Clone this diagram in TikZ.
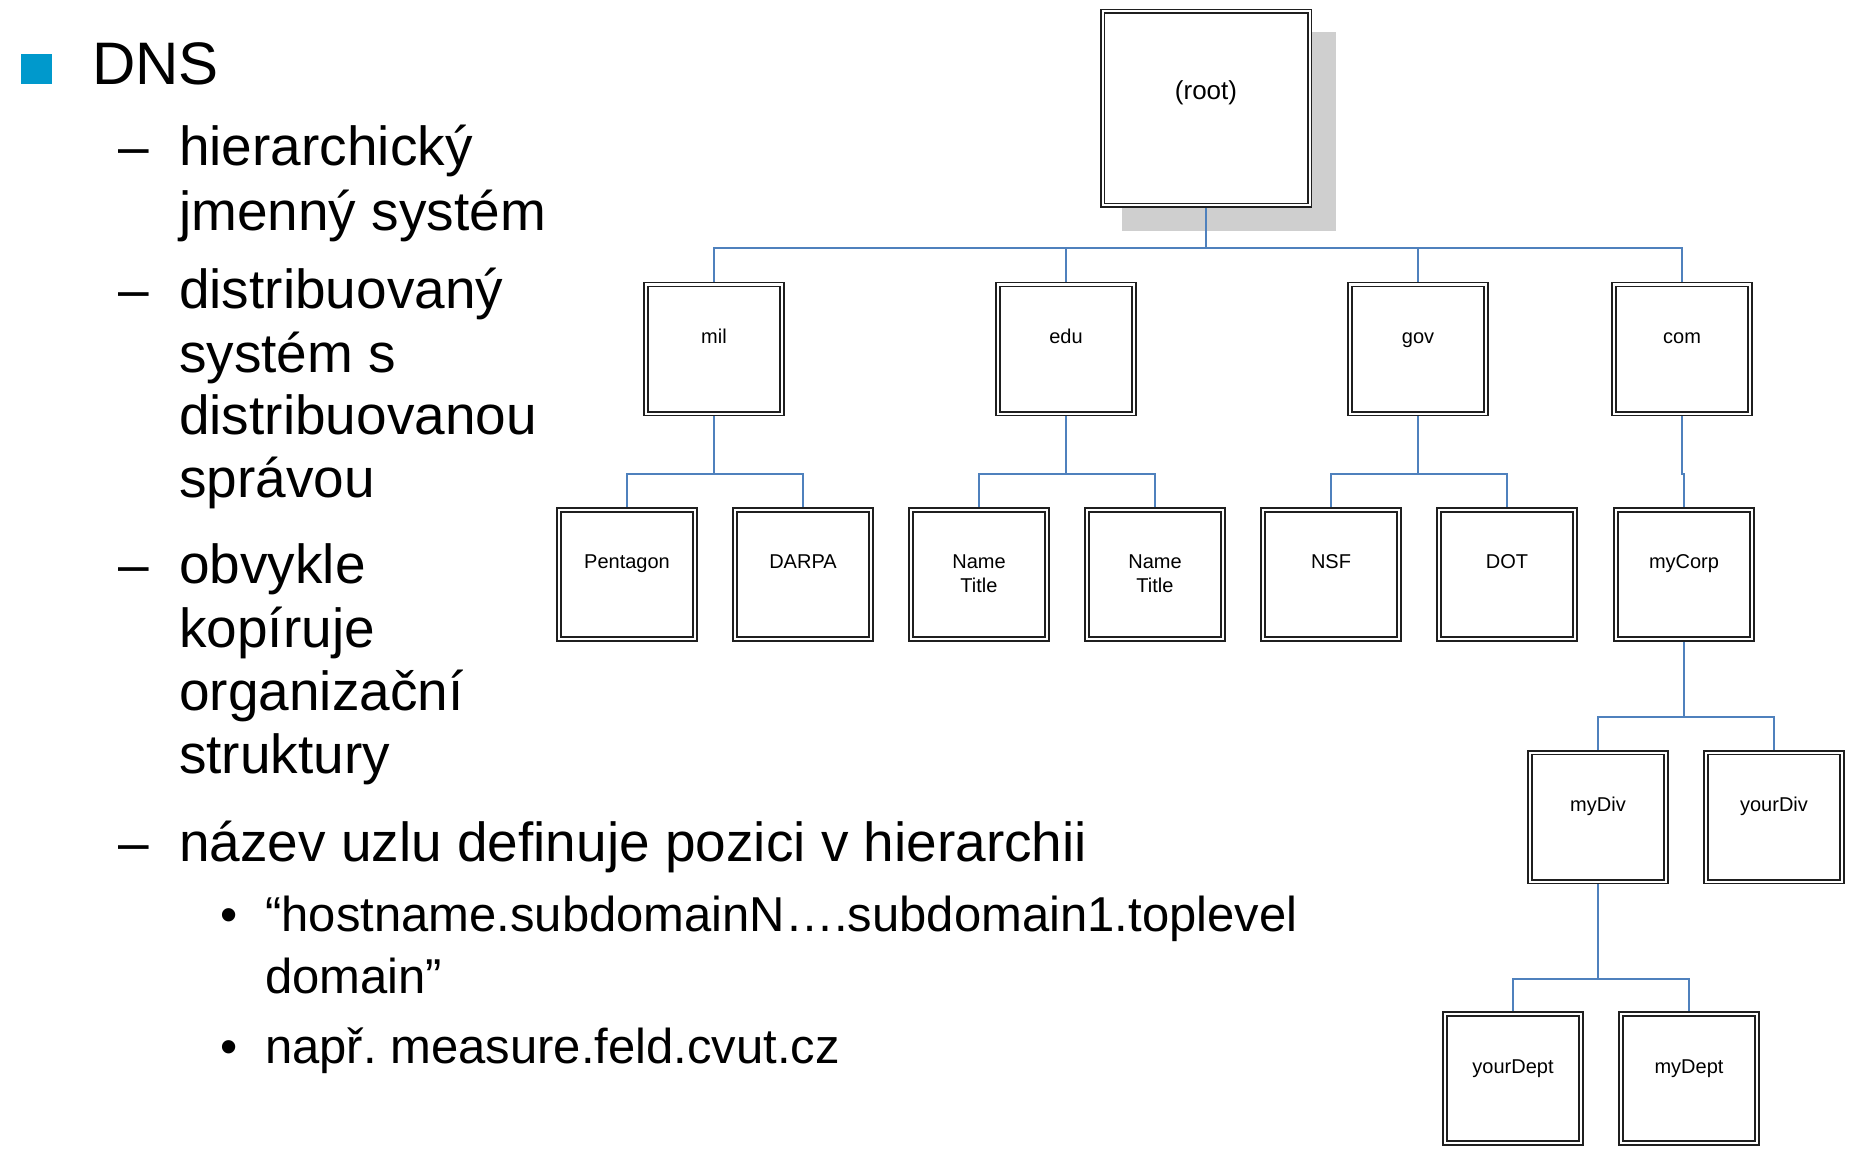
\documentclass[tikz,border=0pt]{standalone}
\usepackage{fontspec}
\setmainfont{Liberation Sans}
\usetikzlibrary{backgrounds}
\definecolor{bulletblue}{RGB}{0,153,204}
\definecolor{connblue}{RGB}{79,129,189}
\definecolor{shadowgray}{RGB}{207,207,207}
\frenchspacing
\begin{document}
\begin{tikzpicture}[x=1pt,y=-1pt,
  box/.style={draw=black!88,double=white,double distance=2pt,line width=1.6pt,fill=white,minimum width=136pt,minimum height=129pt,inner sep=0pt,outer sep=0pt},
  rootbox/.style={box,minimum width=207pt,minimum height=194pt},
  lbl/.style={anchor=base,inner sep=0pt,font=\fontsize{20}{24}\selectfont},
  conn/.style={draw=connblue,line width=1.3pt},
  bigtxt/.style={anchor=base west,inner sep=0pt,font=\fontsize{55}{64}\selectfont},
  smalltxt/.style={anchor=base west,inner sep=0pt,font=\fontsize{49}{58}\selectfont},
]
\useasboundingbox (0,0) rectangle (1849,1166);

% ---------- left text ----------
\fill[bulletblue] (21,54) rectangle (52,84);
\node[anchor=base west,inner sep=0pt,font=\fontsize{60}{70}\selectfont] (dns) at (92,85) {DNS};

\node[bigtxt] (d1) at (118,166) {–};
\node[bigtxt] (t1a) at (179,166) {hierarchický};
\node[bigtxt] (t1b) at (179,231) {jmenný systém};

\node[bigtxt] (d2) at (118,308) {–};
\node[bigtxt] (t2a) at (179,308) {distribuovaný};
\node[bigtxt] (t2b) at (179,372) {systém s};
\node[bigtxt] (t2c) at (179,434) {distribuovanou};
\node[bigtxt] (t2d) at (179,497) {správou};

\node[bigtxt] (d3) at (118,583) {–};
\node[bigtxt] (t3a) at (179,583) {obvykle};
\node[bigtxt] (t3b) at (179,647) {kopíruje};
\node[bigtxt] (t3c) at (179,710) {organizační};
\node[bigtxt] (t3d) at (179,773) {struktury};

\node[bigtxt] (d4) at (118,861) {–};
\node[bigtxt] (t4a) at (179,861) {název uzlu definuje pozici v hierarchii};

\node[smalltxt] (p1) at (220.5,931) {•};
\node[smalltxt] (s1a) at (265,931) {“hostname.subdomainN….subdomain1.toplevel};
\node[smalltxt] (s1b) at (265,993) {domain”};
\node[smalltxt] (p2) at (220.5,1063) {•};
\node[smalltxt] (s2a) at (265,1063) {např. measure.feld.cvut.cz};

% ---------- tree boxes ----------
\node[rootbox] (root) at (1206,108.5) {};
\node[lbl,font=\fontsize{26}{30}\selectfont] (root-t) at (1206,100) {(root)};

\node[box] (mil) at (714,349) {};
\node[box] (edu) at (1066,349) {};
\node[box] (gov) at (1418,349) {};
\node[box] (com) at (1682,349) {};
\node[lbl] (mil-t) at (714,343) {mil};
\node[lbl] (edu-t) at (1066,343) {edu};
\node[lbl] (gov-t) at (1418,343) {gov};
\node[lbl] (com-t) at (1682,343) {com};

\node[box] (pent) at (627,574.5) {};
\node[box] (darpa) at (803,574.5) {};
\node[box] (name1) at (979,574.5) {};
\node[box] (name2) at (1155,574.5) {};
\node[box] (nsf) at (1331,574.5) {};
\node[box] (dot) at (1507,574.5) {};
\node[box] (mycorp) at (1684,574.5) {};
\node[lbl] (pent-t) at (627,568) {Pentagon};
\node[lbl] (darpa-t) at (803,568) {DARPA};
\node[lbl] (name1-t) at (979,568) {Name};
\node[lbl] (name1-u) at (979,592) {Title};
\node[lbl] (name2-t) at (1155,568) {Name};
\node[lbl] (name2-u) at (1155,592) {Title};
\node[lbl] (nsf-t) at (1331,568) {NSF};
\node[lbl] (dot-t) at (1507,568) {DOT};
\node[lbl] (mycorp-t) at (1684,568) {myCorp};

\node[box] (mydiv) at (1598,817) {};
\node[box] (yourdiv) at (1774,817) {};
\node[lbl] (mydiv-t) at (1598,811) {myDiv};
\node[lbl] (yourdiv-t) at (1774,811) {yourDiv};

\node[box] (yourdept) at (1513,1078.5) {};
\node[box] (mydept) at (1689,1078.5) {};
\node[lbl] (yourdept-t) at (1513,1073) {yourDept};
\node[lbl] (mydept-t) at (1689,1073) {myDept};

% ---------- connectors & shadow ----------
\begin{scope}[on background layer]
\fill[shadowgray] (1122,32) rectangle (1336,231);
\coordinate (b1) at (1206,248);
\coordinate (b2) at (0,474);
\coordinate (b3) at (0,717);
\coordinate (b4) at (0,979);
\draw[conn] (root.south) -- (b1);
\draw[conn] (mil.north) |- (b1);
\draw[conn] (com.north) |- (b1);
\draw[conn] (edu.north) -- (edu.north |- b1);
\draw[conn] (gov.north) -- (gov.north |- b1);

\draw[conn] (mil.south) -- (mil.south |- b2);
\draw[conn] (pent.north) |- (mil.south |- b2) -| (darpa.north);
\draw[conn] (edu.south) -- (edu.south |- b2);
\draw[conn] (name1.north) |- (edu.south |- b2) -| (name2.north);
\draw[conn] (gov.south) -- (gov.south |- b2);
\draw[conn] (nsf.north) |- (gov.south |- b2) -| (dot.north);
\draw[conn] (com.south) -- (com.south |- b2) -| (mycorp.north);

\draw[conn] (mycorp.south) -- (mycorp.south |- b3);
\draw[conn] (mydiv.north) |- (mycorp.south |- b3) -| (yourdiv.north);

\draw[conn] (mydiv.south) -- (mydiv.south |- b4);
\draw[conn] (yourdept.north) |- (mydiv.south |- b4) -| (mydept.north);
\end{scope}
\end{tikzpicture}
\end{document}
